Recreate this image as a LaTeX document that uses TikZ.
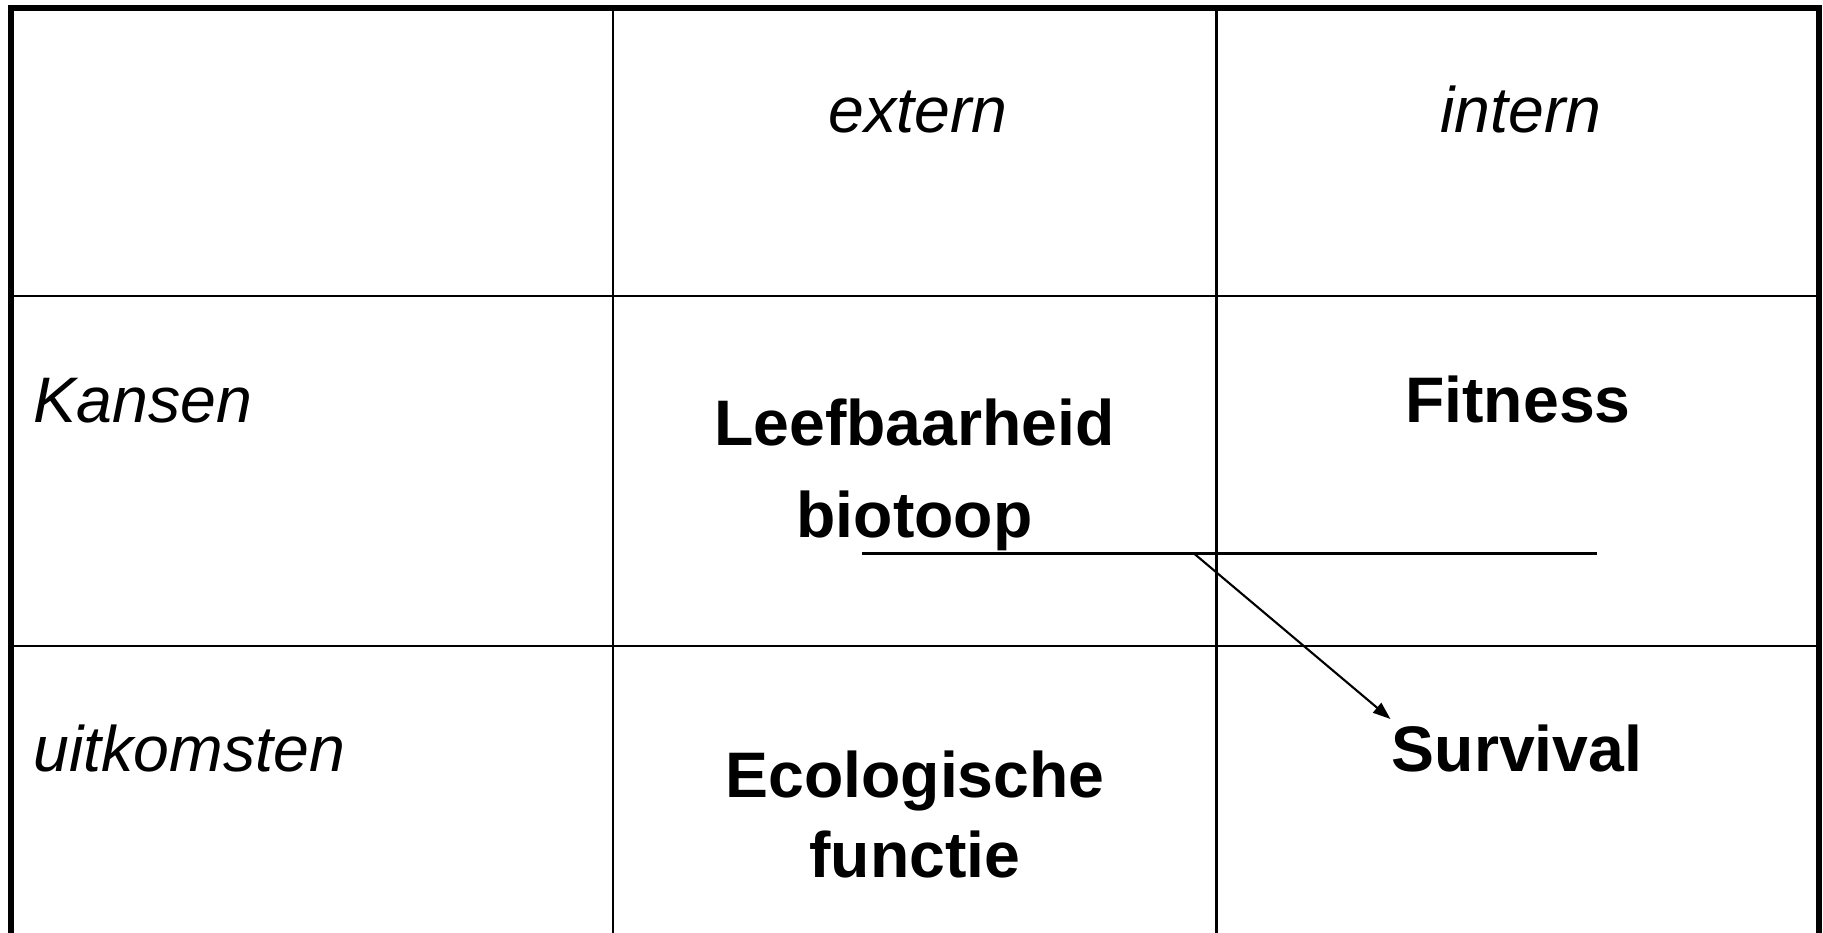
\documentclass[tikz,border=0pt]{standalone}
\usepackage{fontspec}
\setmainfont{Liberation Sans}
\usetikzlibrary{arrows.meta}

\begin{document}
\begin{tikzpicture}[x=0.01cm,y=-0.01cm,
  hdr/.style={anchor=base,inner sep=0pt,font=\fontsize{18.3}{22}\selectfont\itshape},
  rowlbl/.style={anchor=base west,inner sep=0pt,font=\fontsize{18.3}{22}\selectfont\itshape},
  cell/.style={anchor=base,inner sep=0pt,font=\fontsize{18.3}{22}\selectfont\bfseries},
  grid/.style={line width=0.6pt}]
\useasboundingbox (0,0) rectangle (1823,932);
\draw[line width=1.7pt] (11,936) -- (11,8) -- (1819,8) -- (1819,936) -- cycle;
\draw[grid] (613,8) -- (613,936) (1216.5,8) -- (1216.5,936);
\draw[grid] (11,296) -- (1819,296) (11,646) -- (1819,646);
\path node (ext) at (918,132.5) [hdr] {extern}
node (int) at (1521,132.5) [hdr] {intern}
node (kans) at (33,422) [rowlbl] {Kansen}
node (uitk) at (33,771) [rowlbl] {uitkomsten}
node (leef) at (914.5,445) [cell] {Leefbaarheid}
node (bio) at (914.5,537) [cell] {biotoop}
node (fit) at (1518,422) [cell] {Fitness}
node (eco) at (915,797) [cell] {Ecologische}
node (func) at (915,877) [cell] {functie}
node (surv) at (1517,771) [cell] {Survival};
\coordinate (lnL) at (862,553.5);
\coordinate (lnR) at (1597,553.5);
\coordinate (arrS) at (1194,553.5);
\coordinate (arrE) at (1390.5,719);
\draw[grid] (lnL) -- (lnR);
\draw[grid,-{Triangle[length=5pt,width=3.6pt]}] (arrS) -- (arrE);
\end{tikzpicture}
\end{document}
